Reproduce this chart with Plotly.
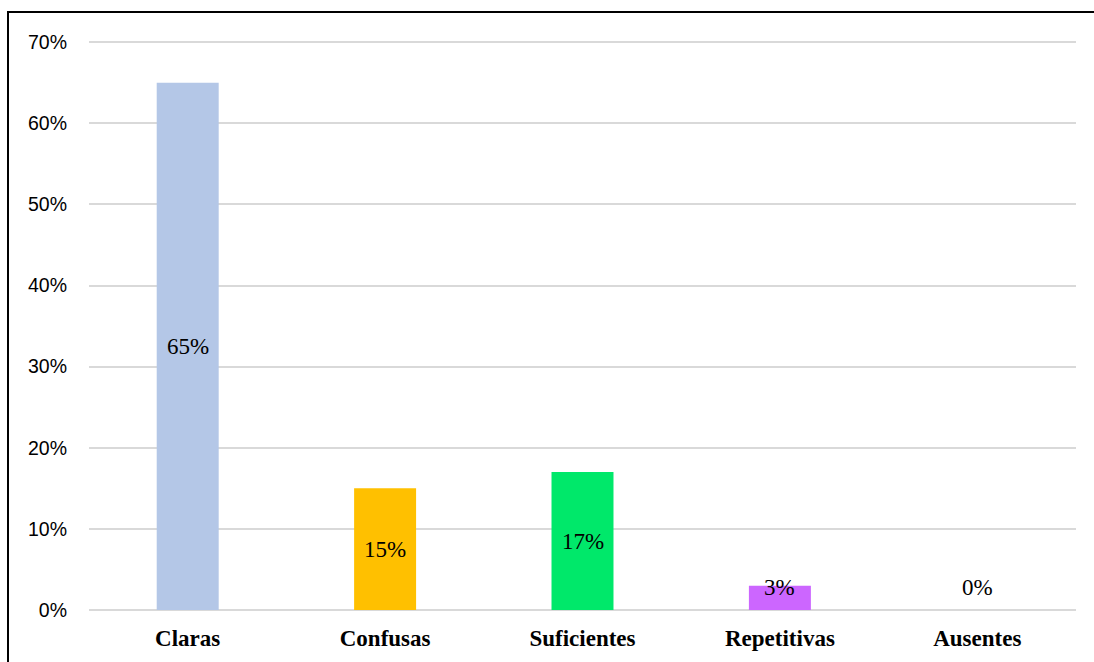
import plotly.graph_objects as go

categories = ["Claras", "Confusas", "Suficientes", "Repetitivas", "Ausentes"]
values = [0.65, 0.15, 0.17, 0.03, 0.00]
colors = ["#B4C7E7", "#FFC000", "#00E86A", "#CC66FF", "#A5A5A5"]
label_texts = ["65%", "15%", "17%", "3%", "0%"]
y_ticks = [0, 0.1, 0.2, 0.3, 0.4, 0.5, 0.6, 0.7]
y_tick_labels = ["0%", "10%", "20%", "30%", "40%", "50%", "60%", "70%"]

fig = go.Figure()
fig.add_trace(go.Bar(
    x=categories, y=values, marker_color=colors, marker_line_width=0,
    hoverinfo="skip", showlegend=False,
))

for c, v, t in zip(categories, values, label_texts):
    fig.add_annotation(
        x=c, y=max(v / 2, 0.028), text=t, showarrow=False,
        font=dict(family="Liberation Serif", size=23, color="#000000"),
        yanchor="middle", xanchor="center",
    )

fig.update_layout(
    width=1094, height=662,
    margin=dict(l=89, r=18, t=41, b=52, autoexpand=False),
    paper_bgcolor="white", plot_bgcolor="white",
    bargap=0.686,
    xaxis=dict(
        showgrid=False, showline=False, zeroline=False, automargin=False,
        tickfont=dict(family="Liberation Serif", size=23, color="#000000", weight="bold"),
        ticklabelstandoff=12,
    ),
    yaxis=dict(
        range=[0, 0.7015], tickvals=y_ticks, ticktext=y_tick_labels,
        showgrid=True, gridcolor="#D9D9D9", gridwidth=1.5,
        zeroline=True, zerolinecolor="#D9D9D9", zerolinewidth=1.5,
        showline=False, automargin=False,
        tickfont=dict(family="Liberation Sans", size=19.5, color="#000000"),
        ticklabelstandoff=21,
    ),
    shapes=[dict(
        type="rect", xref="paper", yref="paper",
        x0=(8 - 89) / (1094 - 89 - 18), x1=1.05,
        y0=-0.2, y1=1 + (41 - 12) / (662 - 41 - 52),
        line=dict(color="#000000", width=2), fillcolor="rgba(0,0,0,0)",
        layer="above",
    )],
)

fig.write_html("out.html")
